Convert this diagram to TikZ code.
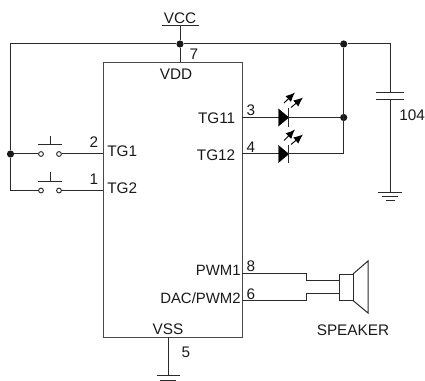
\documentclass[tikz,border=0pt]{standalone}
\usepackage{fontspec}
\setmainfont{Liberation Sans}
\usetikzlibrary{arrows.meta}
\definecolor{wirecol}{HTML}{2A2A2A}
\definecolor{inkcol}{HTML}{1A1A1A}
\begin{document}
\begin{tikzpicture}[x=0.75pt,y=-0.75pt,
  wire/.style={draw=wirecol,line width=0.75pt},
  lbl/.style={inner sep=0pt,text=inkcol,font=\fontsize{11.5}{13}\selectfont},
  dot/.style={circle,fill=inkcol,draw=none,minimum size=5.4pt,inner sep=0pt},
  contact/.style={circle,draw=wirecol,fill=white,line width=0.7pt,minimum size=3.6pt,inner sep=0pt},
  ledbody/.style={fill=black,draw=black,line width=0.3pt},
  ray/.style={draw=black,line width=0.7pt,-{Latex[length=7pt,width=6pt]}}]
\useasboundingbox (0,0) rectangle (425,381);
% chip
\node[draw=wirecol!85!white,line width=0.9pt,minimum width=104.25pt,minimum height=206.25pt,inner sep=0pt,anchor=north west] (chip) at (103,62) {};
% coordinates
\coordinate (vcctop) at (180,25.5);
\coordinate (vccl) at (162,25.5);
\coordinate (vccr) at (199,25.5);
\coordinate (vddpin) at (180,62);
\node[dot] (jv) at (180,44) {};
\node[dot] (jr) at (343.7,44) {};
\node[dot] (jl) at (10.5,154) {};
\node[dot] (jled) at (343.7,117.5) {};
\coordinate (tl) at (10.5,44);
\coordinate (tr) at (390,44);
\coordinate (bl) at (10.5,190.5);
\coordinate (capa) at (390,92.3);
\coordinate (capb) at (390,99.3);
\coordinate (capg) at (390,192.3);
% supply
\draw[wire] (vccl) -- (vccr);
\draw[wire] (vcctop) -- (jv) -- (vddpin);
\draw[wire] (jl) -- (tl) -- (jv) -- (jr) -- (tr) -- (capa);
\draw[wire] (378,192.3) -- (402,192.3);
\draw[wire] (capb) -- (capg);
\draw[wire] (376,92.3) -- (404,92.3);
\draw[wire] (376,99.3) -- (404,99.3);
\draw[wire] (382,197) -- (398,197);
\draw[wire] (386,200.5) -- (394.5,200.5);
% switches
\node[contact] (s1a) at (41,154) {};
\node[contact] (s1b) at (59,154) {};
\node[contact] (s2a) at (41,190.5) {};
\node[contact] (s2b) at (59,190.5) {};
\coordinate (p2) at (103,154);
\coordinate (p1) at (103,190.5);
\draw[wire] (jl) -- (s1a);
\draw[wire] (s1b) -- (p2);
\draw[wire] (jl) -- (bl) -- (s2a);
\draw[wire] (s2b) -- (p1);
\draw[wire] (38,145) -- (62,145) (50.5,145) -- (50.5,136);
\draw[wire] (38,182) -- (62,182) (50.5,182) -- (50.5,172.5);
% LEDs
\coordinate (p3) at (242,117.5);
\coordinate (p4) at (242,154);
\coordinate (led1a) at (278.5,117.5);
\coordinate (led1k) at (288.7,117.5);
\coordinate (led2a) at (278.5,154);
\coordinate (led2k) at (288.7,154);
\coordinate (ledc) at (343.7,154);
\draw[wire] (p3) -- (led1a);
\draw[wire] (led1k) -- (jled);
\draw[wire] (p4) -- (led2a);
\draw[wire] (led2k) -- (ledc) -- (jr);
\fill[ledbody] (278.5,109) -- (288.7,117.5) -- (278.5,126) -- cycle;
\fill[ledbody] (278.5,145.5) -- (288.7,154) -- (278.5,162.5) -- cycle;
\draw[wire] (288.9,108.5) -- (288.9,127);
\draw[wire] (288.9,145) -- (288.9,163.5);
\draw[ray] (284,103) -- (295,92.5);
\draw[ray] (291,107.5) -- (303,97.5);
\draw[ray] (284,140.5) -- (295,129.5);
\draw[ray] (291,144.5) -- (303,134.5);
% speaker
\coordinate (p8) at (242,273.3);
\coordinate (p6) at (242,300.7);
\draw[wire] (p8) -- (306.7,273.3) -- (306.7,280.7) -- (339,280.7);
\draw[wire] (p6) -- (306.7,300.7) -- (306.7,293.7) -- (339,293.7);
\draw[wire] (339,274) rectangle (353,300.5);
\draw[wire] (353,274) -- (368,261) -- (368,313) -- (353,300.5);
% VSS
\coordinate (vsspin) at (168,337);
\coordinate (vssg) at (168,375.7);
\draw[wire] (vsspin) -- (vssg);
\draw[wire] (157,375.7) -- (180,375.7);
\draw[wire] (160,380) -- (176,380);
% labels
\node[lbl] (tvcc) at (180,18) {VCC};
\node[lbl] (t7) at (194,54.5) {7};
\node[lbl] (tvdd) at (176,74) {VDD};
\node[lbl,anchor=west] (ttg1) at (107,151) {TG1};
\node[lbl,anchor=west] (ttg2) at (107,188.5) {TG2};
\node[lbl] (t2) at (94,142) {2};
\node[lbl] (t1) at (94,179) {1};
\node[lbl,anchor=east] (ttg11) at (235.5,118.5) {TG11};
\node[lbl,anchor=east] (ttg12) at (235.5,155.5) {TG12};
\node[lbl] (t3) at (251,110) {3};
\node[lbl] (t4) at (251,147) {4};
\node[lbl,anchor=west] (tcap) at (399,115) {104};
\node[lbl,anchor=east,font=\fontsize{11.2}{13}\selectfont] (tpwm1) at (241,270.7) {PWM1};
\node[lbl,anchor=east,font=\fontsize{11.2}{13}\selectfont] (tdac) at (241,298.5) {DAC/PWM2};
\node[lbl] (t8) at (251,266) {8};
\node[lbl] (t6) at (251,294) {6};
\node[lbl] (tvss) at (168,329.5) {VSS};
\node[lbl] (t5) at (186,352.5) {5};
\node[lbl] (tspk) at (353,330) {SPEAKER};
\end{tikzpicture}
\end{document}
